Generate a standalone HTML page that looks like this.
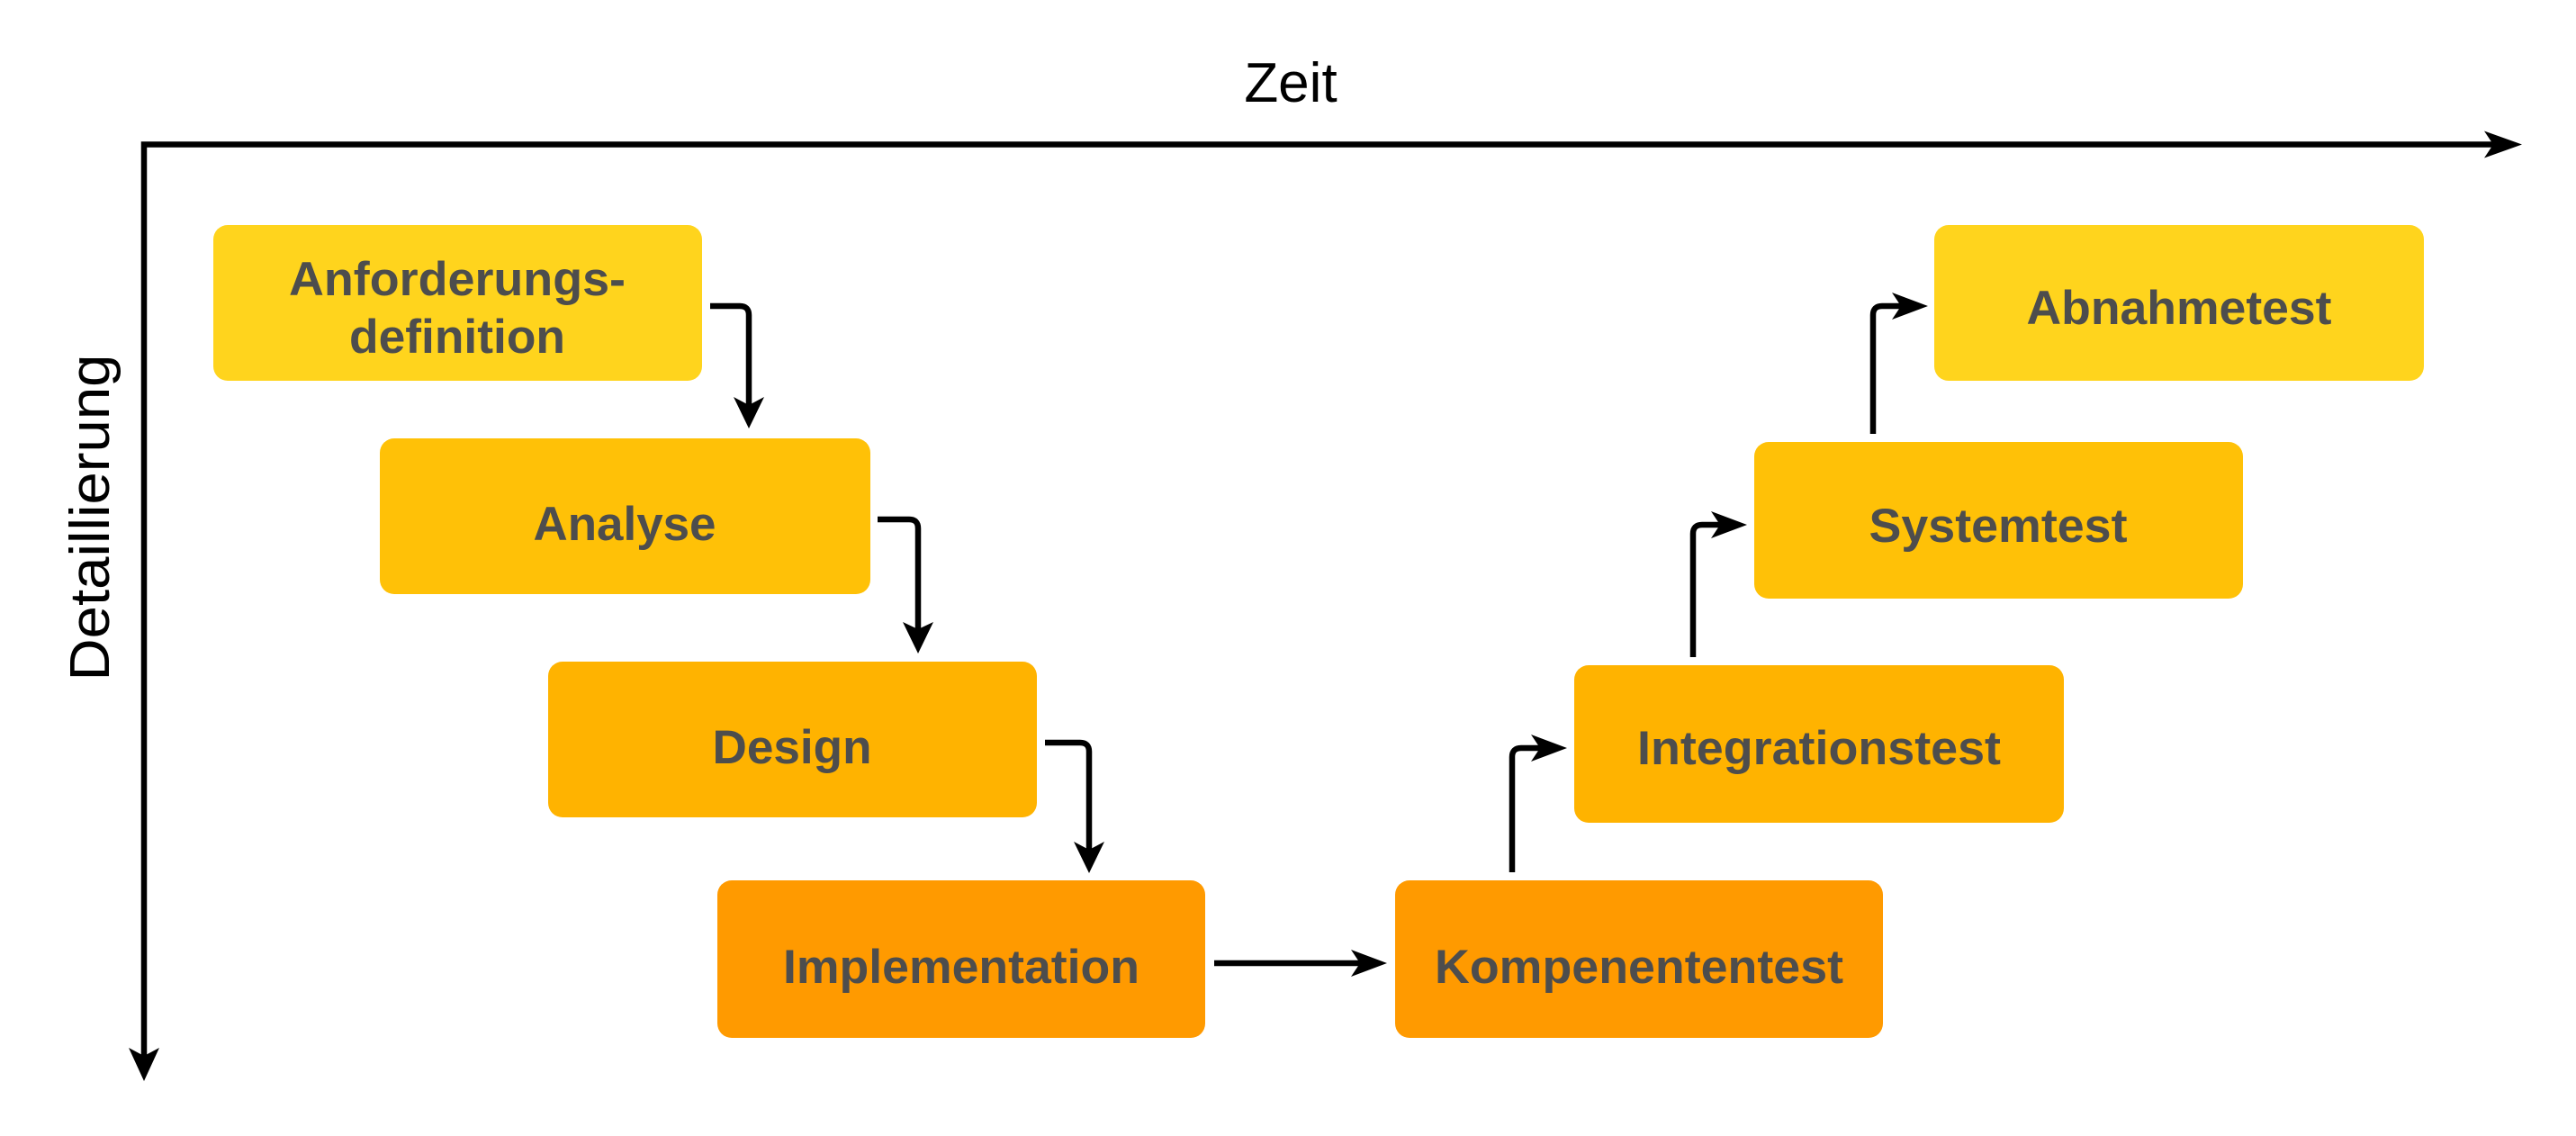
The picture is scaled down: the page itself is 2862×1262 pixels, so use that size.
<!DOCTYPE html>
<html><head><meta charset="utf-8"><style>html,body{margin:0;padding:0;background:#fff;overflow:hidden}svg{display:block}</style></head>
<body>
<svg width="2862" height="1262" viewBox="0 0 2862 1262" xmlns="http://www.w3.org/2000/svg">
<g fill="none" stroke="#000" stroke-width="6.5">
<path d="M160 1175 V160.5 H2780"/>
<path d="M789 340 H822 Q832 340 832 350 V459"/>
<path d="M975 577 H1010 Q1020 577 1020 587 V708"/>
<path d="M1161 825 H1200 Q1210 825 1210 835 V953"/>
<path d="M1349 1070 H1520"/>
<path d="M1680 969 V841 Q1680 831 1690 831 H1720"/>
<path d="M1881 730 V593 Q1881 583 1891 583 H1920"/>
<path d="M2081 482 V350 Q2081 340 2091 340 H2121"/>
</g>
<g fill="#000">
<path d="M160 1201 L143 1164 L160 1173 L177 1164 Z"/>
<path d="M2802 160.5 L2760 145.5 L2770 160.5 L2760 175.5 Z"/>
<path d="M832 476 L815 441 L832 450 L849 441 Z"/>
<path d="M1020 726 L1003 691 L1020 699 L1037 691 Z"/>
<path d="M1210 970 L1193 935 L1210 944 L1227 935 Z"/>
<path d="M1541 1070 L1501 1055 L1511 1070 L1501 1085 Z"/>
<path d="M1741 831 L1701 816 L1711 831 L1701 846 Z"/>
<path d="M1941 583 L1901 568 L1911 583 L1901 598 Z"/>
<path d="M2142 340 L2102 325 L2112 340 L2102 355 Z"/>
</g>
<g>
<rect x="237" y="250" width="543" height="173" rx="16" fill="#FFD41D"/>
<rect x="422" y="487" width="545" height="173" rx="16" fill="#FFC107"/>
<rect x="609" y="735" width="543" height="173" rx="16" fill="#FFB300"/>
<rect x="797" y="978" width="542" height="175" rx="16" fill="#FF9A00"/>
<rect x="1550" y="978" width="542" height="175" rx="16" fill="#FF9A00"/>
<rect x="1749" y="739" width="544" height="175" rx="16" fill="#FFB300"/>
<rect x="1949" y="491" width="543" height="174" rx="16" fill="#FFC107"/>
<rect x="2149" y="250" width="544" height="173" rx="16" fill="#FFD41D"/>
</g>
<g font-family="Liberation Sans, sans-serif" font-weight="bold" font-size="53" fill="#4d4d4d" text-anchor="middle">
<text x="508" y="328" textLength="374" lengthAdjust="spacingAndGlyphs">Anforderungs-</text>
<text x="508" y="392" textLength="240" lengthAdjust="spacingAndGlyphs">definition</text>
<text x="694" y="600" textLength="203" lengthAdjust="spacingAndGlyphs">Analyse</text>
<text x="880" y="848" textLength="177" lengthAdjust="spacingAndGlyphs">Design</text>
<text x="1068" y="1092" textLength="396" lengthAdjust="spacingAndGlyphs">Implementation</text>
<text x="1821" y="1092" textLength="454" lengthAdjust="spacingAndGlyphs">Kompenententest</text>
<text x="2021" y="849" textLength="404" lengthAdjust="spacingAndGlyphs">Integrationstest</text>
<text x="2220" y="602" textLength="287" lengthAdjust="spacingAndGlyphs">Systemtest</text>
<text x="2421" y="360" textLength="339" lengthAdjust="spacingAndGlyphs">Abnahmetest</text>
</g>
<g font-family="Liberation Sans, sans-serif" font-size="62" fill="#000">
<text x="1434" y="113" text-anchor="middle">Zeit</text>
<text transform="translate(121 575) rotate(-90)" text-anchor="middle" textLength="363" lengthAdjust="spacingAndGlyphs">Detaillierung</text>
</g>
</svg>
</body></html>
